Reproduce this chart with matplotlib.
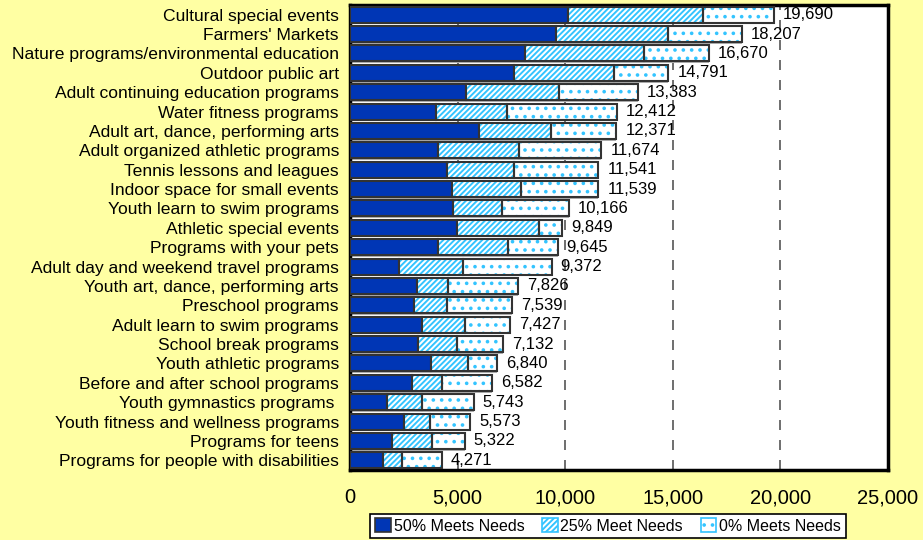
import matplotlib.pyplot as plt
import numpy as np
from matplotlib.patches import Patch

plt.rcParams["font.family"] = ["Liberation Sans", "DejaVu Sans"]
plt.rcParams["hatch.linewidth"] = 1.4

programs = [
    "Cultural special events",
    "Farmers' Markets",
    "Nature programs/environmental education",
    "Outdoor public art",
    "Adult continuing education programs",
    "Water fitness programs",
    "Adult art, dance, performing arts",
    "Adult organized athletic programs",
    "Tennis lessons and leagues",
    "Indoor space for small events",
    "Youth learn to swim programs",
    "Athletic special events",
    "Programs with your pets",
    "Adult day and weekend travel programs",
    "Youth art, dance, performing arts",
    "Preschool programs",
    "Adult learn to swim programs",
    "School break programs",
    "Youth athletic programs",
    "Before and after school programs",
    "Youth gymnastics programs ",
    "Youth fitness and wellness programs",
    "Programs for teens",
    "Programs for people with disabilities",
]
meets_50 = [10120, 9560, 8150, 7600, 5380, 3980, 5980, 4090, 4500, 4730, 4770, 4960,
            4080, 2290, 3100, 2960, 3330, 3180, 3770, 2870, 1740, 2530, 1940, 1520]
meets_25 = [6280, 5210, 5520, 4690, 4310, 3300, 3380, 3780, 3100, 3210, 2280, 3840,
            3250, 2960, 1470, 1570, 2030, 1800, 1700, 1420, 1610, 1210, 1860, 910]
totals = [19690, 18207, 16670, 14791, 13383, 12412, 12371, 11674, 11541, 11539, 10166, 9849,
          9645, 9372, 7826, 7539, 7427, 7132, 6840, 6582, 5743, 5573, 5322, 4271]
meets_0 = [t - a - b for t, a, b in zip(totals, meets_50, meets_25)]

bg = "#FFFFA3"
dark = "#0036B5"
cyan = "#33C4FF"
edge = "#333333"

fig = plt.figure(figsize=(9.23, 5.4), dpi=100, facecolor=bg)
ax = fig.add_axes([350 / 923, 1 - 470 / 540, 538 / 923, 465 / 540])

y = np.arange(len(programs))
h = 0.82
left25 = np.array(meets_50)
left0 = left25 + np.array(meets_25)

# thin shadow under each bar
ax.barh(y + 0.09, totals, height=h, color="#B0B0B0", zorder=2)

ax.barh(y, meets_50, height=h, color=dark, edgecolor=edge, linewidth=1.5, zorder=3)
ax.barh(y, meets_25, left=left25, height=h, color="white", edgecolor=cyan, hatch="//////",
        linewidth=0, zorder=3)
ax.barh(y, meets_25, left=left25, height=h, fill=False, edgecolor=edge, linewidth=1.5, zorder=4)
ax.barh(y, meets_0, left=left0, height=h, color="white", edgecolor=cyan, hatch="..",
        linewidth=0, zorder=3)
ax.barh(y, meets_0, left=left0, height=h, fill=False, edgecolor=edge, linewidth=1.5, zorder=4)

for yi, t in zip(y, totals):
    ax.text(t + 420, yi, f"{t:,}", va="center", ha="left", fontsize=12, zorder=5)

ax.set_ylim(len(programs) - 0.5, -0.5)
ax.set_xlim(0, 25000)
ax.set_yticks(y)
ax.set_yticklabels(programs, fontsize=12.6)
ax.set_xticks(range(0, 25001, 5000))
ax.set_xticklabels([f"{v:,}" for v in range(0, 25001, 5000)], fontsize=14.5)
ax.tick_params(length=0)
ax.tick_params(axis="y", pad=8)
ax.tick_params(axis="x", pad=13)
ax.xaxis.grid(True, linestyle=(0, (6, 6)), color="#555555", linewidth=1.2, zorder=1)
ax.set_axisbelow(True)
for s in ax.spines.values():
    s.set_linewidth(2.5)
    s.set_color("black")

handles = [
    Patch(facecolor=dark, edgecolor=edge, linewidth=1.2),
    Patch(facecolor="white", edgecolor=cyan, hatch="//////", linewidth=1.2),
    Patch(facecolor="white", edgecolor=cyan, hatch="..", linewidth=1.2),
]
leg = fig.legend(handles, ["50% Meets Needs", "25% Meet Needs", "0% Meets Needs"],
                 loc="lower center", bbox_to_anchor=(608 / 923, 0.0), ncol=3, fontsize=11.5,
                 frameon=True, fancybox=False, edgecolor="black", framealpha=1,
                 handlelength=1.0, handleheight=0.9, handletextpad=0.15, columnspacing=1.1,
                 borderpad=0.3, borderaxespad=0.1)
leg.get_frame().set_linewidth(1.2)

fig.savefig("out.png", dpi=100, facecolor=bg)
